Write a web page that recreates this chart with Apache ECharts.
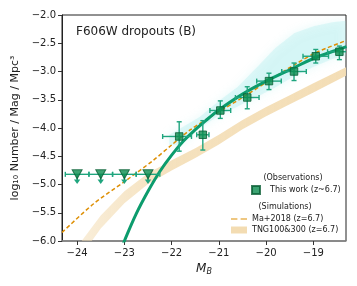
<!DOCTYPE html>
<html><head><meta charset="utf-8">
<script src="https://cdn.jsdelivr.net/npm/echarts@6/dist/echarts.min.js"></script>
<style>html,body{margin:0;padding:0;background:#fff}#c{width:357px;height:286px}</style>
</head><body><div id="c"></div>
<script>
// ---- data ----
const xTicks = [-24, -23, -22, -21, -20, -19];
const obsX    = [-21.84, -21.34, -20.97, -20.40, -19.94, -19.41, -18.95, -18.45];
const obsY    = [-4.15, -4.12, -3.69, -3.46, -3.17, -3.00, -2.73, -2.65];
const obsXerrL = [0.35, 0.13, 0.22, 0.25, 0.26, 0.26, 0.27, 0.25];
const obsXerrR = [0.26, 0.13, 0.22, 0.25, 0.26, 0.26, 0.27, 0.25];
const obsYhi  = [-3.89, -3.87, -3.52, -3.27, -3.03, -2.85, -2.61, -2.55];
const obsYlo  = [-4.41, -4.39, -3.83, -3.66, -3.32, -3.16, -2.85, -2.79];
const limX    = [-24.0, -23.5, -23.0, -22.5];
const limY    = [-4.82, -4.82, -4.82, -4.82];
const limXerr = [0.25, 0.25, 0.25, 0.25];
const limArrowTo = [-4.99, -4.99, -4.99, -4.99];
const fitX = [-23.06, -23.0, -22.75, -22.5, -22.25, -22.0, -21.75, -21.5, -21.25, -21.0, -20.5, -20.0, -19.5, -19.0, -18.5, -18.3];
const fitY = [-6.13, -6.00, -5.52, -5.12, -4.77, -4.48, -4.23, -4.03, -3.85, -3.68, -3.40, -3.17, -2.97, -2.77, -2.62, -2.56];
const maX = [-24.32, -23.65, -23.00, -22.40, -22.00, -21.60, -21.15, -20.50, -19.90, -19.38, -18.93, -18.30];
const maY = [-5.85, -5.34, -4.95, -4.58, -4.30, -4.03, -3.79, -3.46, -3.14, -2.87, -2.66, -2.45];
const tngX     = [-23.95, -23.5, -23.0, -22.5, -22.0, -21.5, -21.0, -20.5, -20.0, -19.5, -19.0, -18.3];
const tngUpper = [-6.05, -5.55, -5.12, -4.80, -4.57, -4.36, -4.12, -3.86, -3.63, -3.42, -3.21, -2.92];
const tngLower = [-6.30, -5.78, -5.33, -4.99, -4.75, -4.53, -4.29, -4.02, -3.79, -3.58, -3.37, -3.07];
const cloudX     = [-22.05, -21.8, -21.4, -21.0, -20.6, -20.2, -19.8, -19.4, -19.0, -18.6, -18.32];
const cloudUpper = [-4.12, -4.00, -3.80, -3.52, -3.27, -2.93, -2.58, -2.32, -2.20, -2.13, -2.10];
const cloudLower = [-4.30, -4.30, -4.00, -3.78, -3.62, -3.45, -3.28, -3.08, -2.92, -2.78, -2.72];

const FONT = 'DejaVu Sans';
const GREEN = '#0c9c6d';
const ERR = '#1fa57e';
const ORANGE = '#de8f05';
const TAN = '#f3dcb2';
const minus = s => String(s).replace('-', '\u2212');

function polyRender(xs, up, lo, style) {
  return function (params, api) {
    if (params.dataIndex !== 0) return;
    const pts = [];
    for (let i = 0; i < xs.length; i++) pts.push(api.coord([xs[i], up[i]]));
    for (let i = xs.length - 1; i >= 0; i--) pts.push(api.coord([xs[i], lo[i]]));
    return { type: 'polygon', shape: { points: pts }, style: style };
  };
}

const errData = obsX.map((x, i) => [x, obsY[i], x - obsXerrL[i], x + obsXerrR[i], obsYlo[i], obsYhi[i]]);
const limData = limX.map((x, i) => [x, limY[i], x - limXerr[i], x + limXerr[i], limArrowTo[i]]);

const tanFill = new echarts.graphic.LinearGradient(0, 0, 1, 0, [
  { offset: 0, color: 'rgba(243,220,178,0.5)' },
  { offset: 0.35, color: 'rgba(243,220,178,0.85)' },
  { offset: 1, color: 'rgba(243,220,178,0.95)' }
]);

const chart = echarts.init(document.getElementById('c'));
chart.setOption({
  animation: false,
  textStyle: { fontFamily: FONT },
  grid: { left: 62, right: 11, top: 15, bottom: 45, show: true, borderColor: '#222', borderWidth: 1, backgroundColor: 'transparent' },
  xAxis: {
    type: 'value', min: -24.32, max: -18.31,
    axisLine: { show: true, onZero: false, lineStyle: { color: '#888', width: 1.5 } },
    axisTick: { show: true, length: 4, customValues: xTicks, lineStyle: { color: '#333' } },
    axisLabel: { customValues: xTicks, formatter: v => minus(v), fontSize: 10, color: '#222', margin: 7, fontFamily: FONT },
    splitLine: { show: false },
    name: '{m|M}{b|B}', nameLocation: 'middle', nameGap: 18,
    nameTextStyle: { rich: {
      m: { fontFamily: FONT, fontStyle: 'italic', fontSize: 12, color: '#222', lineHeight: 14 },
      b: { fontFamily: FONT, fontStyle: 'italic', fontSize: 8, color: '#222', lineHeight: 9, verticalAlign: 'bottom', padding: [4, 0, 0, 0] }
    } }
  },
  yAxis: {
    type: 'value', min: -6, max: -2, interval: 0.5,
    axisLine: { show: true, onZero: false, lineStyle: { color: '#222' } },
    axisTick: { show: true, length: 4, lineStyle: { color: '#333' } },
    axisLabel: { formatter: v => minus(v.toFixed(1)), fontSize: 10, color: '#222', margin: 6, fontFamily: FONT },
    splitLine: { show: false },
    name: 'log\u2081\u2080 Number / Mag / Mpc\u00b3', nameLocation: 'middle', nameGap: 36,
    nameTextStyle: { fontSize: 11, color: '#222', fontFamily: FONT }
  },
  legend: [
    { data: [{ name: 'This work (z~6.7)', icon: 'rect' }], left: 251, top: 185, padding: 0, itemWidth: 8, itemHeight: 8,
      textStyle: { fontSize: 8, color: '#222', fontFamily: FONT, padding: [0, 0, 0, 5] }, selectedMode: false },
    { data: [
        { name: 'Ma+2018 (z=6.7)', icon: 'path://M0,0H6V1H0Z M9,0H15V1H9Z', itemStyle: { color: ORANGE } },
        { name: 'TNG100&300 (z=6.7)', icon: 'rect', itemStyle: { color: TAN } }
      ], orient: 'vertical', left: 231, top: 215, padding: 0, itemWidth: 16, itemHeight: 7, itemGap: 3,
      textStyle: { fontSize: 8, color: '#222', fontFamily: FONT }, selectedMode: false }
  ],
  graphic: [
    { type: 'text', left: 76, top: 26, style: { text: 'F606W dropouts (B)', font: '12px "DejaVu Sans"', fill: '#222' } },
    { type: 'text', x: 293, y: 178, style: { text: '(Observations)', font: '8px "DejaVu Sans"', fill: '#222', align: 'center', verticalAlign: 'middle' } },
    { type: 'text', x: 285, y: 207, style: { text: '(Simulations)', font: '8px "DejaVu Sans"', fill: '#222', align: 'center', verticalAlign: 'middle' } }
  ],
  series: [
    { name: 'TNG100&300 (z=6.7)', type: 'custom', clip: true, z: 1, itemStyle: { color: TAN },
      data: [[tngX[0], tngUpper[0]]], renderItem: polyRender(tngX, tngUpper, tngLower, { fill: tanFill }) },
    { name: 'cloud', type: 'custom', clip: true, z: 2, silent: true,
      data: [[cloudX[0], cloudUpper[0]]],
      renderItem: polyRender(cloudX, cloudUpper, cloudLower, { fill: 'rgba(165,236,236,0.3)', shadowBlur: 10, shadowColor: 'rgba(150,230,230,0.7)' }) },
    { name: 'Ma+2018 (z=6.7)', type: 'line', z: 3, symbol: 'none', smooth: 0.3, clip: true,
      lineStyle: { color: ORANGE, width: 1.5, type: [4, 2.5] }, itemStyle: { color: ORANGE },
      data: maX.map((x, i) => [x, maY[i]]) },
    { name: 'fit', type: 'line', z: 4, symbol: 'none', smooth: 0.4, clip: true,
      lineStyle: { color: GREEN, width: 3 }, data: fitX.map((x, i) => [x, fitY[i]]) },
    { name: 'err', type: 'custom', z: 5, clip: true, data: errData,
      renderItem: function (params, api) {
        const x = api.value(0), y = api.value(1);
        const l = api.coord([api.value(2), y]), r = api.coord([api.value(3), y]);
        const t = api.coord([x, api.value(5)]), b = api.coord([x, api.value(4)]);
        const st = { stroke: ERR, lineWidth: 1.4 };
        const cap = 2.5;
        return { type: 'group', children: [
          { type: 'line', shape: { x1: l[0], y1: l[1], x2: r[0], y2: r[1] }, style: st },
          { type: 'line', shape: { x1: t[0], y1: t[1], x2: b[0], y2: b[1] }, style: st },
          { type: 'line', shape: { x1: l[0], y1: l[1] - cap, x2: l[0], y2: l[1] + cap }, style: st },
          { type: 'line', shape: { x1: r[0], y1: r[1] - cap, x2: r[0], y2: r[1] + cap }, style: st },
          { type: 'line', shape: { x1: t[0] - cap, y1: t[1], x2: t[0] + cap, y2: t[1] }, style: st },
          { type: 'line', shape: { x1: b[0] - cap, y1: b[1], x2: b[0] + cap, y2: b[1] }, style: st }
        ] };
      } },
    { name: 'lim', type: 'custom', z: 5, clip: false, data: limData,
      renderItem: function (params, api) {
        const x = api.value(0), y = api.value(1);
        const c = api.coord([x, y]);
        const l = api.coord([api.value(2), y]), r = api.coord([api.value(3), y]);
        const e = api.coord([x, api.value(4)]);
        const st = { stroke: ERR, lineWidth: 1.4 };
        const cap = 2.5;
        return { type: 'group', children: [
          { type: 'line', shape: { x1: l[0], y1: l[1], x2: r[0], y2: r[1] }, style: st },
          { type: 'line', shape: { x1: l[0], y1: l[1] - cap, x2: l[0], y2: l[1] + cap }, style: st },
          { type: 'line', shape: { x1: r[0], y1: r[1] - cap, x2: r[0], y2: r[1] + cap }, style: st },
          { type: 'line', shape: { x1: c[0], y1: c[1], x2: e[0], y2: e[1] - 3 }, style: st },
          { type: 'polygon', shape: { points: [[e[0] - 3.2, e[1] - 4.5], [e[0] + 3.2, e[1] - 4.5], [e[0], e[1]]] }, style: { fill: ERR } }
        ] };
      } },
    { name: 'limits', type: 'scatter', z: 6, symbol: 'triangle', symbolRotate: 180, symbolSize: [10, 9],
      itemStyle: { color: '#0b8c4f', borderColor: '#0a5e34', borderWidth: 1 },
      data: limX.map((x, i) => [x, limY[i]]) },
    { name: 'This work (z~6.7)', type: 'scatter', z: 6, symbol: 'rect', symbolSize: 7.5,
      itemStyle: { color: '#0b8c4f', borderColor: '#0a5e34', borderWidth: 1 },
      data: obsX.map((x, i) => [x, obsY[i]]) }
  ]
});
</script></body></html>
